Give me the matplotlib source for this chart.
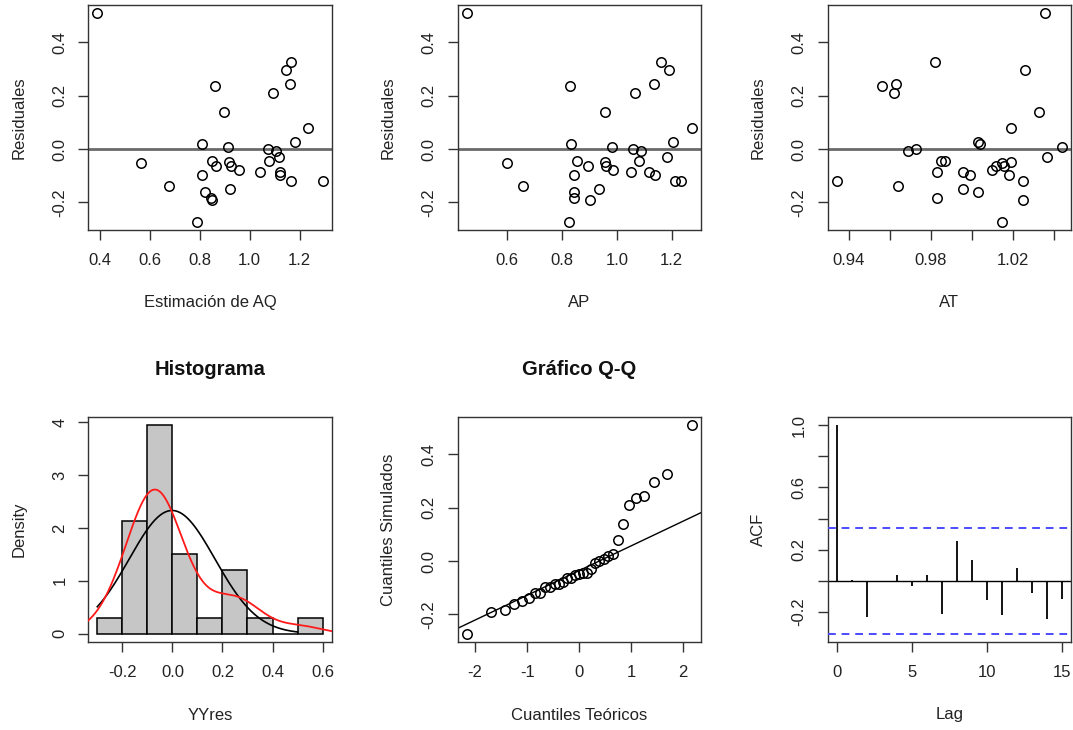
import matplotlib
matplotlib.use("Agg")
import matplotlib.pyplot as plt
import numpy as np
from statistics import NormalDist

plt.rcParams["font.family"] = ["Liberation Sans", "DejaVu Sans"]

# Residuals of the model and the matching fitted values / covariates
residuales = [0.509, -0.0525, -0.140, -0.272, 0.0175, -0.098, -0.161, -0.185,
              -0.191, -0.046, 0.236, -0.065, 0.139, 0.009, -0.050, -0.065,
              -0.150, -0.078, -0.084, 0.001, -0.044, 0.209, -0.006, -0.031,
              -0.084, -0.098, 0.296, 0.327, 0.244, -0.119, 0.027, 0.081, -0.119]
estimacion_aq = [0.390, 0.564, 0.679, 0.788, 0.808, 0.808, 0.820, 0.844,
                 0.851, 0.851, 0.861, 0.866, 0.897, 0.913, 0.916, 0.924,
                 0.921, 0.957, 1.041, 1.073, 1.078, 1.093, 1.106, 1.117,
                 1.121, 1.122, 1.144, 1.165, 1.160, 1.165, 1.182, 1.232, 1.292]
ap = [0.453, 0.600, 0.657, 0.827, 0.832, 0.846, 0.844, 0.844,
      0.901, 0.854, 0.830, 0.897, 0.958, 0.984, 0.958, 0.961,
      0.936, 0.987, 1.053, 1.058, 1.080, 1.066, 1.087, 1.181,
      1.116, 1.140, 1.191, 1.162, 1.136, 1.213, 1.205, 1.273, 1.232]
at = [1.036, 1.015, 0.964, 1.015, 1.004, 1.018, 1.003, 0.983,
      1.025, 0.985, 0.956, 1.012, 1.033, 1.044, 1.019, 1.016,
      0.996, 1.010, 0.983, 0.973, 0.987, 0.962, 0.969, 1.037,
      0.996, 0.999, 1.026, 0.982, 0.963, 1.025, 1.003, 1.019, 0.934]

# Autocorrelation of the residuals, lags 0..15
acf_lags = list(range(16))
acf_values = [1.0, 0.003, -0.232, -0.003, 0.038, -0.036, 0.034, -0.215,
              0.253, 0.134, -0.126, -0.221, 0.079, -0.079, -0.249, -0.115]

hist_breaks = [-0.3, -0.2, -0.1, 0.0, 0.1, 0.2, 0.3, 0.4, 0.5, 0.6]
kde_bandwidth = 0.088

res = np.array(residuales)
n = len(res)

FS = 12
TXT = "#222222"
SPINE = "#333333"

fig = plt.figure(figsize=(10.73, 7.30), dpi=100)
W, H = 1073, 730
lefts = [88.3, 457.5, 827.5]
tops = [5, 417]
aw, ah = 243.3, 225


def make_ax(row, col):
    l = lefts[col] / W
    b = 1 - (tops[row] + ah) / H
    ax = fig.add_axes([l, b, aw / W, ah / H])
    for s in ax.spines.values():
        s.set_color(SPINE)
        s.set_linewidth(1.0)
    ax.tick_params(axis="both", direction="out", length=7, width=1.0,
                   color=SPINE, labelsize=FS, labelcolor=TXT)
    ax.tick_params(axis="x", pad=9.5)
    ax.tick_params(axis="y", pad=8.0)
    return ax


def finish(ax, xlabel, ylabel, yticks, ylabels=None):
    ax.set_yticks(yticks)
    if ylabels is not None:
        ax.set_yticklabels(ylabels)
    for t in ax.get_yticklabels():
        t.set_rotation(90)
        t.set_va("center")
    ax.set_xlabel(xlabel, fontsize=FS, color=TXT, va="center")
    ax.xaxis.set_label_coords(0.5, -73 / ah)
    ax.set_ylabel(ylabel, fontsize=FS, color=TXT, va="center")
    ax.yaxis.set_label_coords(-69 / aw, 0.5)


def pad_lim(lo, hi, f=0.04):
    d = (hi - lo) * f
    return lo - d, hi + d


res_lim = pad_lim(res.min(), res.max())
res_ticks = [-0.2, 0.0, 0.2, 0.4]
res_labels = ["-0.2", "0.0", "0.2", "0.4"]

# Residuals against fitted values and each covariate
scatter_specs = [
    (estimacion_aq, "Estimación de AQ", [0.4, 0.6, 0.8, 1.0, 1.2], ["0.4", "0.6", "0.8", "1.0", "1.2"]),
    (ap, "AP", [0.6, 0.8, 1.0, 1.2], ["0.6", "0.8", "1.0", "1.2"]),
    (at, "AT", [0.94, 0.96, 0.98, 1.00, 1.02, 1.04], ["0.94", "", "0.98", "", "1.02", ""]),
]
for col, (xv, xl, xt, xtl) in enumerate(scatter_specs):
    ax = make_ax(0, col)
    xv = np.array(xv)
    ax.axhline(0, color="#6a6a6a", lw=2.0, zorder=1)
    ax.plot(xv, res, "o", mfc="none", mec="black", ms=6.8, mew=1.1, zorder=2)
    ax.set_xlim(*pad_lim(xv.min(), xv.max()))
    ax.set_ylim(*res_lim)
    ax.set_xticks(xt)
    ax.set_xticklabels(xtl)
    finish(ax, xl, "Residuales", res_ticks, res_labels)

# Histogram with normal density and kernel density estimate
ax = make_ax(1, 0)
counts, edges = np.histogram(res, bins=hist_breaks)
dens = counts / (n * np.diff(edges))
ax.bar(edges[:-1], dens, width=np.diff(edges), align="edge",
       color="#c6c6c6", edgecolor="black", linewidth=1.1, zorder=1)
mu, sd = res.mean(), res.std(ddof=1)
xs = np.linspace(-0.3, 0.5, 300)
ax.plot(xs, np.exp(-0.5 * ((xs - mu) / sd) ** 2) / (sd * np.sqrt(2 * np.pi)),
        color="black", lw=1.2, zorder=3)
bw = kde_bandwidth
xk = np.linspace(res.min() - 3 * bw, res.max() + 3 * bw, 512)
kde = np.exp(-0.5 * ((xk[:, None] - res[None, :]) / bw) ** 2).sum(axis=1) / (n * bw * np.sqrt(2 * np.pi))
ax.plot(xk, kde, color="#ff1a1a", lw=1.3, zorder=4)
ax.set_xlim(*pad_lim(hist_breaks[0], hist_breaks[-1]))
ax.set_ylim(*pad_lim(0, dens.max()))
ax.set_xticks([-0.2, 0.0, 0.2, 0.4, 0.6])
ax.set_xticklabels(["-0.2", "0.0", "0.2", "0.4", "0.6"])
finish(ax, "YYres", "Density", [0, 1, 2, 3, 4], ["0", "1", "2", "3", "4"])
ax.set_title("Histograma", fontsize=14.5, fontweight="bold", color="#111111",
             y=1 + 39 / ah, va="center")

# Normal Q-Q plot
ax = make_ax(1, 1)
nd = NormalDist()
pp = (np.arange(1, n + 1) - 0.5) / n
tq = np.array([nd.inv_cdf(p) for p in pp])
sq = np.sort(res)
ax.plot(tq, sq, "o", mfc="none", mec="black", ms=6.8, mew=1.1, zorder=2)
yq = np.percentile(res, [25, 75])
xq = np.array([nd.inv_cdf(0.25), nd.inv_cdf(0.75)])
slope = (yq[1] - yq[0]) / (xq[1] - xq[0])
inter = yq[0] - slope * xq[0]
ax.axline((0, inter), slope=slope, color="black", lw=1.0, zorder=1)
ax.set_xlim(*pad_lim(tq.min(), tq.max()))
ax.set_ylim(*res_lim)
ax.set_xticks([-2, -1, 0, 1, 2])
ax.set_xticklabels(["-2", "-1", "0", "1", "2"])
finish(ax, "Cuantiles Teóricos", "Cuantiles Simulados", res_ticks, res_labels)
ax.set_title("Gráfico Q-Q", fontsize=14.5, fontweight="bold", color="#111111",
             y=1 + 39 / ah, va="center")

# Autocorrelation function
ax = make_ax(1, 2)
clim = 1.96 / np.sqrt(n)
ax.axhline(0, color="black", lw=1.0, zorder=1)
ax.vlines(acf_lags, 0, acf_values, color="black", lw=1.3, zorder=2)
ax.axhline(clim, color="#4b4bff", lw=1.4, ls=(0, (4, 3)), zorder=3)
ax.axhline(-clim, color="#4b4bff", lw=1.4, ls=(0, (4, 3)), zorder=3)
ax.set_xlim(*pad_lim(0, 15))
ax.set_ylim(*pad_lim(min(-clim, min(acf_values)), max(clim, max(acf_values))))
ax.set_xticks([0, 5, 10, 15])
ax.set_xticklabels(["0", "5", "10", "15"])
finish(ax, "Lag", "ACF", [-0.2, 0.0, 0.2, 0.4, 0.6, 0.8, 1.0],
       ["-0.2", "", "0.2", "", "0.6", "", "1.0"])

fig.savefig("out.png", dpi=100)
